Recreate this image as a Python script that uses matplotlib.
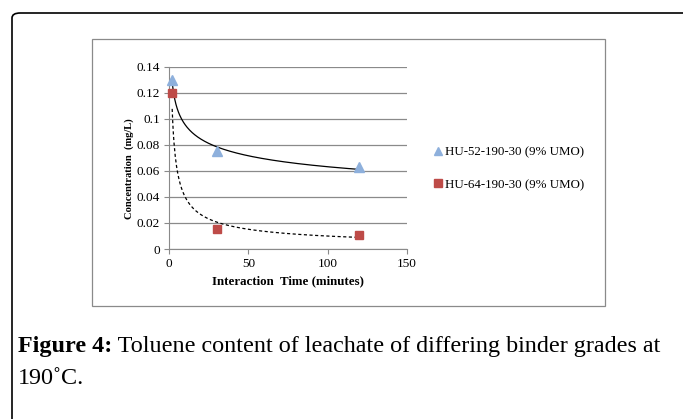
import numpy as np
import matplotlib
matplotlib.use("Agg")
import matplotlib.pyplot as plt
from matplotlib.patches import FancyBboxPatch, Rectangle
from matplotlib.lines import Line2D

# ---- data ----
time_52 = [2, 30, 120]
conc_52 = [0.13, 0.075, 0.063]
time_64 = [2, 30, 120]
conc_64 = [0.12, 0.015, 0.011]
series_names = ["HU-52-190-30 (9% UMO)", "HU-64-190-30 (9% UMO)"]
x_ticks = [0, 50, 100, 150]
y_ticks = [0, 0.02, 0.04, 0.06, 0.08, 0.1, 0.12, 0.14]
y_tick_labels = ["0", "0.02", "0.04", "0.06", "0.08", "0.1", "0.12", "0.14"]
caption_bold = "Figure 4:"
caption_rest = " Toluene content of leachate of differing binder grades at"
caption_line2 = "190\u02daC."

W, H = 683, 419
fig = plt.figure(figsize=(W / 100, H / 100), dpi=100)
serif = ["Liberation Serif", "DejaVu Serif"]

def px(x, y):
    return x / W, 1 - y / H

# outer page frame (rounded corner)
frame = FancyBboxPatch(px(12, 470), (720 - 12) / W, (470 - 13) / H,
                       boxstyle="round,pad=0,rounding_size=0.012",
                       transform=fig.transFigure, fill=False,
                       edgecolor="black", linewidth=1.2, clip_on=False)
fig.patches.append(frame)

# chart box
x0, y0 = px(92, 306)
box = Rectangle((x0, y0), (605 - 92) / W, (306 - 39) / H,
                transform=fig.transFigure, fill=False,
                edgecolor="#8a8a8a", linewidth=0.9)
fig.patches.append(box)

# axes
left, right, top, bottom = 169, 407, 66.7, 249
ax = fig.add_axes([left / W, 1 - bottom / H, (right - left) / W, (bottom - top) / H])
ax.set_xlim(0, 150)
ax.set_ylim(0, 0.14)
ax.set_xticks(x_ticks)
ax.set_xticklabels([str(v) for v in x_ticks], fontfamily=serif, fontsize=9.5)
ax.set_yticks(y_ticks)
ax.set_yticklabels(y_tick_labels, fontfamily=serif, fontsize=9.5)
for s in ["top", "right"]:
    ax.spines[s].set_visible(False)
for s in ["left", "bottom"]:
    ax.spines[s].set_color("#8a8a8a")
    ax.spines[s].set_linewidth(0.8)
ax.tick_params(axis="both", direction="out", length=3.5, width=0.8, color="#8a8a8a", pad=3)
ax.yaxis.grid(True, color="#8a8a8a", linewidth=0.9)
ax.set_axisbelow(True)

# power trendlines fitted to data
def power_fit(x, y):
    b, lna = np.polyfit(np.log(x), np.log(y), 1)
    xs = np.linspace(min(x), max(x), 300)
    return xs, np.exp(lna) * xs ** b

xs, ys = power_fit(time_52, conc_52)
ax.plot(xs, ys, color="black", linewidth=0.9, zorder=2)
xs, ys = power_fit(time_64, conc_64)
ax.plot(xs, ys, color="black", linewidth=0.9, linestyle=(0, (2.5, 2)), zorder=2)

ax.plot(time_52, conc_52, linestyle="none", marker="^", markersize=6.5,
        color="#8eb0dc", markeredgecolor="#8eb0dc", zorder=3, clip_on=False)
ax.plot(time_64, conc_64, linestyle="none", marker="s", markersize=5.5,
        color="#be4b48", markeredgecolor="#be4b48", zorder=3, clip_on=False)

ax.set_xlabel("Interaction  Time (minutes)", fontfamily=serif, fontsize=9.3,
              fontweight="bold", labelpad=4)
ax.set_ylabel("Concentration  (mg/L)", fontfamily=serif, fontsize=7.6,
              fontweight="bold")
ax.yaxis.set_label_coords(-0.145, 0.44)

# legend
handles = [Line2D([], [], linestyle="none", marker="^", markersize=6,
                  color="#8eb0dc"),
           Line2D([], [], linestyle="none", marker="s", markersize=5.5,
                  color="#be4b48")]
leg = fig.legend(handles, series_names, loc="center left",
                 bbox_to_anchor=px(428, 168.5), frameon=False,
                 prop={"family": serif, "size": 9.3},
                 handlelength=0.6, handletextpad=0.2, labelspacing=1.6,
                 borderpad=0)

# caption
fig.canvas.draw()
r = fig.canvas.get_renderer()
t1 = fig.text(18 / W, 1 - 352 / H, caption_bold, fontfamily=serif,
              fontweight="bold", fontsize=17.4, va="baseline")
ext = t1.get_window_extent(r)
fig.text(ext.x1 / W, 1 - 352 / H, caption_rest, fontfamily=serif,
         fontsize=17.4, va="baseline")
fig.text(18 / W, 1 - 384 / H, caption_line2, fontfamily=serif,
         fontsize=17.4, va="baseline")

fig.savefig("out.png", dpi=100)
